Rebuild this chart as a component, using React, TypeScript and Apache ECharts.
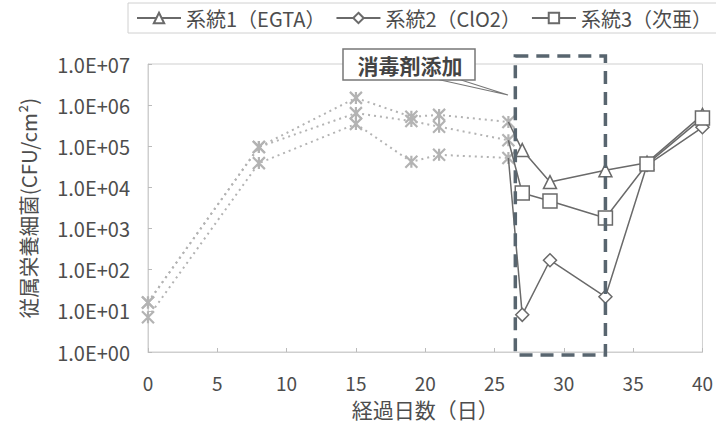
import React, { useEffect, useRef } from "react";
import * as echarts from "echarts";

// Pre-dosing counts (gray dotted, asterisk markers)
const preDays = [0, 8, 15, 19, 21, 26];
const preSys1 = [16, 96000, 1500000, 520000, 580000, 390000];
const preSys2 = [7, 39000, 350000, 42000, 62000, 52000];
const preSys3 = [16, 96000, 640000, 410000, 300000, 140000];

// Counts after disinfectant dosing (first point is the last pre-dosing day)
const postDays = [26, 27, 29, 33, 36, 40];
const postSys1 = [390000, 81000, 13500, 26000, 40000, 580000];
const postSys2 = [52000, 8, 170, 22, 35000, 290000];
const postSys3 = [140000, 7300, 4700, 1800, 37000, 490000];

const seriesNames = ["系統1（EGTA）", "系統2（ClO2）", "系統3（次亜）"];
const seriesSymbols = ["triangle", "diamond", "rect"];
const seriesSymbolSizes = [13, 13, 14];

const xTicks = { min: 0, max: 40, interval: 5 };
const dosingWindow = [26.5, 33];
const dosingLabel = "消毒剤添加";

const FONT = "'Noto Sans CJK JP', 'Noto Sans', sans-serif";
const TEXT = "#4d4d4d";
const LINE = "#6a6a6a";
const GRAY = "#b3b3b3";

// asterisk: an X crossed by a vertical bar
const ASTERISK = "path://M0 0L10 10M10 0L0 10M5 0L5 10";

function pairs(xs: number[], ys: number[]) {
  return xs.map((x, i) => [x, ys[i]]);
}

export default function App() {
  const ref = useRef<HTMLDivElement>(null);

  useEffect(() => {
    if (!ref.current) return;
    const chart = echarts.init(ref.current, null, { renderer: "svg" });

    const preSeries = [preSys1, preSys2, preSys3].map((vals, i) => ({
      name: "pre" + i,
      type: "line",
      data: pairs(preDays, vals),
      symbol: ASTERISK,
      symbolSize: 12,
      symbolKeepAspect: true,
      lineStyle: { color: GRAY, width: 2, type: [2, 4] },
      itemStyle: { color: "rgba(0,0,0,0)", borderColor: GRAY, borderWidth: 2.2 },
      z: 2,
    }));

    const postSeries = [postSys1, postSys2, postSys3].map((vals, i) => ({
      name: seriesNames[i],
      type: "line",
      data: pairs(postDays, vals).map((p, j) =>
        j === 0 ? { value: p, symbol: "none" } : { value: p }
      ),
      symbol: seriesSymbols[i],
      symbolSize: seriesSymbolSizes[i],
      showAllSymbol: true,
      lineStyle: { color: LINE, width: 1.5 },
      itemStyle: { color: "#ffffff", borderColor: LINE, borderWidth: 1.5 },
      z: 3,
    }));

    chart.setOption({
      animation: false,
      backgroundColor: "#ffffff",
      textStyle: { fontFamily: FONT },
      grid: { left: 148, right: 11, top: 64, bottom: 78, show: true, borderColor: "#cfcfcf", borderWidth: 1 },
      legend: {
        data: seriesNames,
        left: 128,
        top: 3,
        width: 700,
        padding: [5, 30, 5, 8],
        itemGap: 10,
        itemWidth: 44,
        itemHeight: 13,
        borderColor: "#d0d0d0",
        borderWidth: 1,
        textStyle: { fontFamily: FONT, fontSize: 20, color: TEXT },
      },
      xAxis: {
        type: "value",
        min: xTicks.min,
        max: xTicks.max,
        interval: xTicks.interval,
        name: "経過日数（日）",
        nameLocation: "middle",
        nameGap: 46,
        nameTextStyle: { fontSize: 21, color: TEXT, fontFamily: FONT },
        axisLine: { show: true, lineStyle: { color: "#cfcfcf" } },
        axisTick: { show: true, inside: true, length: 4, lineStyle: { color: "#bbbbbb" } },
        axisLabel: { fontSize: 19, color: TEXT, margin: 21, fontFamily: FONT },
        splitLine: { show: false },
      },
      yAxis: {
        type: "log",
        logBase: 10,
        min: 1,
        max: 1e7,
        splitNumber: 7,
        name: "従属栄養細菌(CFU/cm²)",
        nameLocation: "middle",
        nameGap: 110,
        nameTextStyle: { fontSize: 20.5, color: TEXT, fontFamily: FONT },
        axisLine: { show: true, lineStyle: { color: "#cfcfcf" } },
        axisTick: { show: true, inside: true, length: 4, lineStyle: { color: "#bbbbbb" } },
        axisLabel: {
          fontSize: 20,
          color: TEXT,
          margin: 18,
          fontFamily: FONT,
          formatter: (v: number) => {
            const e = Math.round(Math.log10(v));
            return "1.0E+" + (e < 10 ? "0" : "") + e;
          },
        },
        splitLine: { show: false },
      },
      series: [...preSeries, ...postSeries],
    });

    // dosing window and its callout
    const xl = chart.convertToPixel({ xAxisIndex: 0 }, dosingWindow[0]) as number;
    const xr = chart.convertToPixel({ xAxisIndex: 0 }, dosingWindow[1]) as number;
    chart.setOption({
      graphic: [
        {
          type: "rect",
          shape: { x: xl, y: 56, width: xr - xl, height: 299 },
          style: { fill: "none", stroke: "#58656f", lineWidth: 3.5, lineDash: [13, 8] },
          z: 10,
        },
        {
          type: "polygon",
          shape: { points: [[436, 79], [508, 95], [458, 79]] },
          style: { fill: "#ffffff", stroke: "#777777", lineWidth: 1.2 },
          z: 11,
        },
        {
          type: "rect",
          shape: { x: 343, y: 49, width: 132, height: 31 },
          style: { fill: "#ffffff", stroke: "#777777", lineWidth: 1.5 },
          z: 12,
        },
        {
          type: "text",
          x: 410,
          y: 65,
          style: {
            text: dosingLabel,
            fontSize: 21,
            fontWeight: "bold",
            fontFamily: FONT,
            fill: "#444444",
            align: "center",
            verticalAlign: "middle",
          },
          z: 13,
        },
      ],
    });

    return () => chart.dispose();
  }, []);

  return (
    <div
      ref={ref}
      style={{ position: "fixed", left: 0, top: 0, width: 716, height: 430 }}
    />
  );
}
